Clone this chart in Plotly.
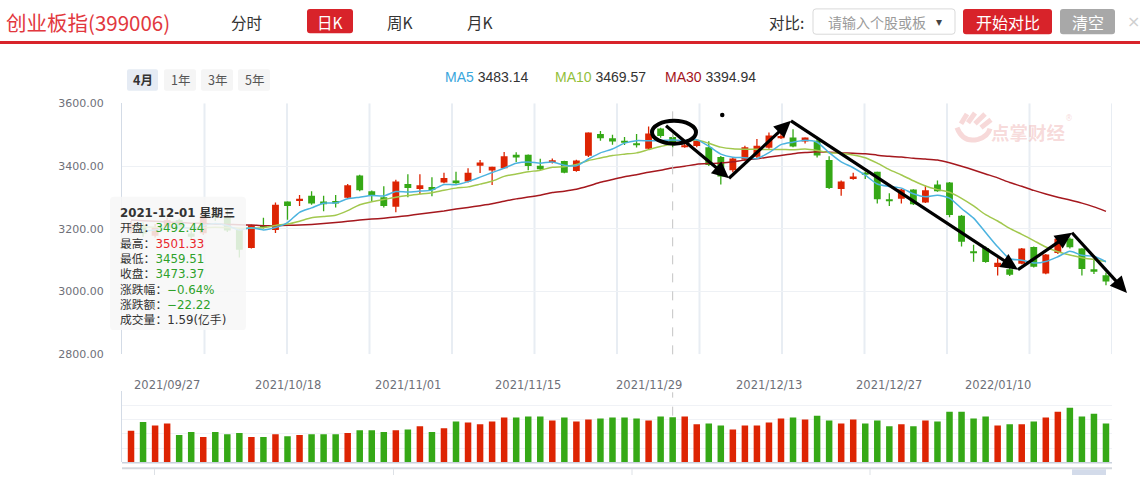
import datetime
import plotly.graph_objects as go

W, H = 1140, 482

# ---------------- data ----------------
dates = [
    "2021/09/22", "2021/09/23", "2021/09/24", "2021/09/27", "2021/09/28", "2021/09/29", "2021/09/30",
    "2021/10/08", "2021/10/11", "2021/10/12", "2021/10/13", "2021/10/14", "2021/10/15",
    "2021/10/18", "2021/10/19", "2021/10/20", "2021/10/21", "2021/10/22",
    "2021/10/25", "2021/10/26", "2021/10/27", "2021/10/28", "2021/10/29",
    "2021/11/01", "2021/11/02", "2021/11/03", "2021/11/04", "2021/11/05",
    "2021/11/08", "2021/11/09", "2021/11/10", "2021/11/11", "2021/11/12",
    "2021/11/15", "2021/11/16", "2021/11/17", "2021/11/18", "2021/11/19",
    "2021/11/22", "2021/11/23", "2021/11/24", "2021/11/25", "2021/11/26",
    "2021/11/29", "2021/11/30", "2021/12/01", "2021/12/02", "2021/12/03",
    "2021/12/06", "2021/12/07", "2021/12/08", "2021/12/09", "2021/12/10",
    "2021/12/13", "2021/12/14", "2021/12/15", "2021/12/16", "2021/12/17",
    "2021/12/20", "2021/12/21", "2021/12/22", "2021/12/23", "2021/12/24",
    "2021/12/27", "2021/12/28", "2021/12/29", "2021/12/30", "2021/12/31",
    "2022/01/04", "2022/01/05", "2022/01/06", "2022/01/07",
    "2022/01/10", "2022/01/11", "2022/01/12", "2022/01/13", "2022/01/14",
    "2022/01/17", "2022/01/18", "2022/01/19", "2022/01/20", "2022/01/21",
]
opens = [3195, 3212, 3178, 3205, 3228, 3185, 3186, 3243, 3240, 3196,
         3139, 3211, 3196, 3287, 3289, 3305, 3287, 3289, 3299, 3370,
         3320, 3301, 3270, 3343, 3327, 3333, 3348, 3354, 3351, 3401,
         3386, 3393, 3436, 3436, 3401, 3412, 3416, 3384, 3433, 3502,
         3489, 3481, 3471, 3455, 3520, 3492.44, 3462, 3464, 3460, 3429,
         3387, 3421, 3430, 3458, 3489, 3491, 3478, 3481, 3419, 3327,
         3359, 3379, 3382, 3294, 3296, 3325, 3284, 3341, 3348, 3242,
         3128, 3139, 3078, 3071, 3089, 3142, 3058, 3123, 3168, 3137,
         3071, 3052]
highs = [3225, 3220, 3215, 3235, 3232, 3195, 3250, 3255, 3262, 3200,
         3213, 3235, 3284, 3287, 3308, 3320, 3305, 3308, 3343, 3372,
         3322, 3336, 3356, 3374, 3374, 3364, 3379, 3382, 3393, 3419,
         3398, 3445, 3444, 3437, 3423, 3424, 3417, 3420, 3507, 3512,
         3500, 3493, 3502, 3526, 3522, 3501.33, 3480, 3483, 3479, 3432,
         3429, 3465, 3486, 3507, 3512, 3517, 3491, 3486, 3431, 3354,
         3379, 3382, 3382, 3313, 3327, 3326, 3338, 3354, 3349, 3244,
         3149, 3144, 3106, 3076, 3139, 3144, 3120, 3172, 3172, 3138,
         3102, 3061]
lows = [3185, 3175, 3172, 3200, 3198, 3165, 3180, 3225, 3190, 3109,
        3137, 3201, 3187, 3229, 3273, 3277, 3256, 3268, 3297, 3320,
        3287, 3268, 3253, 3301, 3310, 3304, 3345, 3344, 3348, 3378,
        3340, 3393, 3413, 3387, 3387, 3408, 3377, 3382, 3429, 3481,
        3468, 3467, 3459, 3452, 3490, 3459.51, 3458, 3460, 3400, 3341,
        3380, 3417, 3425, 3455, 3486, 3460, 3472, 3427, 3327, 3305,
        3356, 3359, 3281, 3273, 3281, 3276, 3282, 3318, 3237, 3144,
        3095, 3092, 3051, 3050, 3087, 3077, 3055, 3120, 3137, 3051,
        3056, 3020]
closes = [3215, 3185, 3206, 3228, 3205, 3175, 3240, 3238, 3195, 3133,
          3211, 3206, 3277, 3273, 3296, 3281, 3281, 3281, 3339, 3323,
          3308, 3273, 3351, 3330, 3339, 3324, 3362, 3348, 3379, 3411,
          3398, 3431, 3427, 3400, 3390, 3418, 3379, 3418, 3507, 3489,
          3478, 3474, 3467, 3504, 3495.59, 3473.37, 3465, 3480, 3403, 3367,
          3424, 3460, 3465, 3497, 3496, 3462, 3491, 3434, 3330, 3351,
          3367, 3372, 3294, 3290, 3325, 3278, 3323, 3320, 3244, 3159,
          3124, 3094, 3092, 3054, 3137, 3079, 3118, 3168, 3141, 3072,
          3063, 3032]
volumes = [1.11, 1.42, 1.30, 1.37, 0.96, 1.07, 0.89, 1.07, 0.99, 1.03,
           0.89, 0.89, 0.99, 0.92, 0.96, 0.99, 0.99, 0.99, 1.03, 1.13,
           1.13, 1.07, 1.13, 1.16, 1.27, 1.07, 1.20, 1.44, 1.40, 1.34,
           1.44, 1.58, 1.58, 1.61, 1.61, 1.47, 1.58, 1.44, 1.51, 1.54,
           1.58, 1.58, 1.54, 1.47, 1.61, 1.59, 1.61, 1.34, 1.37, 1.30,
           1.16, 1.30, 1.30, 1.40, 1.54, 1.58, 1.51, 1.64, 1.47, 1.37,
           1.51, 1.37, 1.47, 1.27, 1.34, 1.27, 1.47, 1.44, 1.78, 1.78,
           1.54, 1.61, 1.30, 1.34, 1.34, 1.44, 1.58, 1.78, 1.92, 1.61,
           1.71, 1.37]
ma5 = [3196, 3194, 3196, 3203, 3207.8, 3199.8, 3210.8, 3217.2, 3210.6, 3196.2,
       3203.4, 3196.6, 3204.4, 3220, 3252.6, 3266.6, 3281.6, 3282.4, 3295.6, 3301,
       3306.4, 3304.8, 3318.8, 3317, 3320.2, 3323.4, 3341.2, 3340.6, 3350.4, 3364.6,
       3379.4, 3393.2, 3409, 3413.2, 3409.2, 3413.2, 3402.8, 3401, 3422.4, 3442.2,
       3454.2, 3473.2, 3481, 3480.4, 3481.7, 3483.14, 3481, 3484, 3463.3, 3438,
       3428.2, 3426.8, 3423.8, 3442.6, 3468.4, 3476, 3482.2, 3476, 3442.6, 3413.6,
       3394.6, 3370.8, 3342.8, 3334.8, 3329.6, 3311.8, 3302, 3307.2, 3298, 3264.8,
       3234, 3188.2, 3142.6, 3104.6, 3100.2, 3091.2, 3096, 3111.2, 3128.6, 3115.6,
       3112.4, 3095.2]
ma10 = [3207, 3206, 3205, 3205, 3204, 3203, 3204, 3205, 3204, 3202,
        3201.6, 3203.7, 3210.8, 3215.3, 3224.4, 3235, 3239.1, 3243.4, 3257.8, 3276.8,
        3286.5, 3293.2, 3300.6, 3306.3, 3310.6, 3314.9, 3323, 3329.7, 3333.7, 3342.4,
        3351.4, 3367.2, 3374.8, 3381.8, 3386.9, 3396.3, 3398, 3405, 3417.8, 3425.7,
        3433.7, 3438, 3442, 3452.4, 3462.6, 3469.57, 3476.8, 3483, 3472.6, 3460.4,
        3454.9, 3453.4, 3453.4, 3452.7, 3453, 3451.9, 3454.5, 3449.9, 3442.6, 3441,
        3435.3, 3426.5, 3409.4, 3388.7, 3371.6, 3353.2, 3336.4, 3325, 3316.4, 3297.2,
        3272.9, 3245.1, 3224.9, 3201.3, 3182.5, 3162.6, 3142.1, 3126.9, 3116.6, 3107.9,
        3101.8, 3095.6]
ma30 = [3228, 3226, 3224, 3222, 3220, 3218, 3217, 3215, 3214, 3213,
        3212, 3210, 3210, 3211, 3212, 3214, 3217, 3220, 3224, 3228,
        3231, 3234, 3238, 3242, 3247, 3252, 3257, 3263, 3268, 3273.7,
        3279.8, 3288, 3295.4, 3301.1, 3307.3, 3315.4, 3320, 3326, 3336.4, 3348.3,
        3357.2, 3366.1, 3372.5, 3380.2, 3387, 3394.94, 3399.3, 3405.9, 3408.1, 3409.5,
        3413.4, 3419.6, 3423.4, 3428.9, 3434, 3439.3, 3442.9, 3445.8, 3444.2, 3442.2,
        3441.2, 3439.2, 3434.8, 3431.1, 3428.9, 3424.9, 3422.4, 3419.1, 3410.4, 3399.4,
        3387.6, 3374.9, 3362.5, 3347.5, 3335.6, 3322.5, 3310.9, 3300.5, 3291.8, 3281.9,
        3269.9, 3255.6]
price_ticks = [2800, 3000, 3200, 3400, 3600]
label_dates = ["2021/09/27", "2021/10/18", "2021/11/01", "2021/11/15",
               "2021/11/29", "2021/12/13", "2021/12/27", "2022/01/10"]
focus_date = "2021/12/01"

# ---------------- styling ----------------
RED = "#dd2403"
GREEN = "#35a816"
C_MA5 = "#4cb3df"
C_MA10 = "#a2c84e"
C_MA30 = "#a5181e"
CJK = "Noto Sans CJK SC"

n = len(dates)
idx = list(range(n))
up = [c >= o for o, c in zip(opens, closes)]
colors = [RED if u else GREEN for u in up]

PLOT_L, PLOT_R = 122, 1112
MAIN_T, MAIN_B = 100, 358
VOL_T, VOL_B = 396, 469


def px(x):
    return x / W


def py(y):
    return 1 - y / H


fig = go.Figure()

# wicks
for col in (RED, GREEN):
    wx, wy = [], []
    for i in idx:
        if colors[i] == col:
            wx += [i, i, None]
            wy += [lows[i], highs[i], None]
    fig.add_trace(go.Scatter(x=wx, y=wy, mode="lines", line=dict(color=col, width=1.3),
                             hoverinfo="skip", showlegend=False, xaxis="x", yaxis="y"))

# bodies
bases = [min(o, c) for o, c in zip(opens, closes)]
heights = [max(abs(c - o), 3) for o, c in zip(opens, closes)]
fig.add_trace(go.Bar(x=idx, y=heights, base=bases, marker=dict(color=colors, line=dict(width=0)),
                     width=0.57, showlegend=False, xaxis="x", yaxis="y"))

# moving averages
for vals, col in ((ma30, C_MA30), (ma10, C_MA10), (ma5, C_MA5)):
    fig.add_trace(go.Scatter(x=idx, y=vals, mode="lines",
                             line=dict(color=col, width=1.5, shape="spline", smoothing=0.6),
                             showlegend=False, xaxis="x", yaxis="y"))

# volume
fig.add_trace(go.Bar(x=idx, y=volumes, marker=dict(color=colors, line=dict(width=0)),
                     width=0.54, showlegend=False, xaxis="x2", yaxis="y2"))

xrange = [-0.75, n - 0.5]
tickvals = [dates.index(d) for d in label_dates]

fig.update_layout(
    width=W, height=H, margin=dict(l=0, r=0, t=0, b=0),
    paper_bgcolor="white", plot_bgcolor="white", barmode="overlay", showlegend=False,
    xaxis=dict(domain=[px(PLOT_L), px(PLOT_R)], range=xrange, anchor="y",
               showticklabels=False, showgrid=False, zeroline=False, showline=False, fixedrange=True),
    yaxis=dict(domain=[py(MAIN_B), py(MAIN_T)], range=[2800, 3600], tickvals=price_ticks,
               tickformat=".2f", ticks="", ticklabelstandoff=15,
               tickfont=dict(family="DejaVu Sans", size=11, color="#6e7079"),
               showgrid=True, gridcolor="#eef1f5", gridwidth=1, zeroline=False,
               showline=True, linecolor="#d3dbe6", linewidth=1),
    xaxis2=dict(domain=[px(PLOT_L), px(PLOT_R)], range=xrange, anchor="y2",
                showticklabels=False, ticks="",
                showgrid=False, zeroline=False, showline=False),
    yaxis2=dict(domain=[py(VOL_B), py(VOL_T)], range=[0, 2.5], dtick=0.5, showticklabels=False,
                showgrid=True, gridcolor="#f0f2f6", zeroline=False, ticks="",
                showline=True, linecolor="#d3dbe6", linewidth=1),
)

shapes = []
annotations = []

# date labels between the two panels, placed on the shared category scale
for tv, lab in zip(tickvals, label_dates):
    annotations.append(dict(x=tv, y=py(390), xref="x2", yref="paper", text=lab, showarrow=False,
                            xanchor="center", yanchor="middle",
                            font=dict(family="DejaVu Sans", size=11.5, color="#6e7079")))

# vertical split lines in the price grid
for k in range(1, 13):
    xv = xrange[0] + k * (xrange[1] - xrange[0]) / 12
    shapes.append(dict(type="line", xref="x", yref="y", x0=xv, x1=xv, y0=2800, y1=3600,
                       line=dict(color="#e8edf3", width=2), layer="below"))

# volume bottom axis and slider strip
shapes.append(dict(type="line", xref="paper", yref="paper", x0=px(PLOT_L), x1=px(PLOT_R),
                   y0=py(VOL_B + 0.5), y1=py(VOL_B + 0.5), line=dict(color="#c9d1dd", width=1.5)))
shapes.append(dict(type="line", xref="paper", yref="paper", x0=px(PLOT_L), x1=px(PLOT_R),
                   y0=py(475), y1=py(475), line=dict(color="#d4d8de", width=2)))
for xs in (154.5, 393.5, 632, 870):
    shapes.append(dict(type="line", xref="paper", yref="paper", x0=px(xs), x1=px(xs),
                       y0=py(476), y1=py(482), line=dict(color="#dde1e6", width=1)))
shapes.append(dict(type="rect", xref="paper", yref="paper", x0=px(1072), x1=px(1106),
                   y0=py(482), y1=py(476), fillcolor="#d3dbea", line=dict(width=0)))

# crosshair
fi = dates.index(focus_date)
shapes.append(dict(type="line", xref="x", yref="paper", x0=fi, x1=fi, y0=py(MAIN_B), y1=py(MAIN_T),
                   line=dict(color="#c4c4c4", width=1, dash="dash")))
shapes.append(dict(type="line", xref="x2", yref="paper", x0=fi, x1=fi, y0=py(421), y1=py(397),
                   line=dict(color="#c4c4c4", width=1, dash="dash")))


def rrect(x0, y0, x1, y1, r, fill, line_color=None, lw=0):
    p = (f"M {px(x0 + r)},{py(y0)} L {px(x1 - r)},{py(y0)} Q {px(x1)},{py(y0)} {px(x1)},{py(y0 + r)} "
         f"L {px(x1)},{py(y1 - r)} Q {px(x1)},{py(y1)} {px(x1 - r)},{py(y1)} "
         f"L {px(x0 + r)},{py(y1)} Q {px(x0)},{py(y1)} {px(x0)},{py(y1 - r)} "
         f"L {px(x0)},{py(y0 + r)} Q {px(x0)},{py(y0)} {px(x0 + r)},{py(y0)} Z")
    return dict(type="path", xref="paper", yref="paper", path=p, fillcolor=fill,
                line=dict(color=line_color or fill, width=lw), layer="above")


def text(x, y, t, size=14, color="#333", anchor="left", family=CJK, yanchor="middle"):
    annotations.append(dict(x=px(x), y=py(y), xref="paper", yref="paper", text=t, showarrow=False,
                            xanchor=anchor, yanchor=yanchor, align="left",
                            font=dict(family=family, size=size, color=color)))


# ---------- header ----------
shapes.append(dict(type="line", xref="paper", yref="paper", x0=0, x1=1, y0=py(37.5), y1=py(37.5),
                   line=dict(color="#d8232a", width=3)))
text(4, 16, "创业板指(399006)", 20.5, "#e2383e")
text(246, 16, "分时", 15.5, "#333", "center")
shapes.append(rrect(307, 3, 353, 28, 3, "#d8232a"))
text(330, 16, "日K", 15.5, "white", "center")
text(400, 16, "周K", 15.5, "#333", "center")
text(480, 16, "月K", 15.5, "#333", "center")
text(786, 16, "对比:", 15.5, "#333", "center")
shapes.append(rrect(813, 3, 955, 29, 3, "white", "#d9d9d9", 1))
text(826, 16, "请输入个股或板", 14, "#9a9a9a")
text(939, 16, "▾", 12, "#444", "center", "DejaVu Sans")
shapes.append(rrect(963, 3, 1052, 29, 3, "#d8232a"))
text(1007.5, 16, "开始对比", 16, "white", "center")
shapes.append(rrect(1060, 3, 1115, 29, 3, "#a8a8a8"))
text(1087.5, 16, "清空", 16, "white", "center")
text(1125, 16, "×", 16, "#cfcfcf", "left", "DejaVu Sans")

# range buttons
for (x0, x1, lab, bg, bold) in ((127, 158, "4月", "#e5ebf4", True), (164, 196, "1年", "#f5f5f5", False),
                                (201, 233, "3年", "#f5f5f5", False), (238, 270, "5年", "#f5f5f5", False)):
    shapes.append(rrect(x0, 65, x1, 87, 2, bg))
    text((x0 + x1) / 2, 76, f"<b>{lab}</b>" if bold else lab, 12.5, "#333" if bold else "#555", "center")

# MA legend
for x0, lab, col, vals in ((443, "MA5", "#3aa6dc", ma5), (553, "MA10", "#93c03b", ma10),
                           (663, "MA30", "#a5131b", ma30)):
    text(x0, 73, f"<span style='color:{col}'>{lab}</span> <span style='color:#333'>{vals[fi]:.2f}</span>",
         14, "#333", "left", "Liberation Sans")

# ---------- tooltip ----------
shapes.append(rrect(110, 196, 246, 333, 4, "rgba(247,247,247,0.86)"))
prev_close = closes[fi - 1]
chg = closes[fi] - prev_close
pct = chg / prev_close * 100
wk = "一二三四五六日"[datetime.datetime.strptime(focus_date, "%Y/%m/%d").weekday()]
TG = "#2ea12a"
TR = "#e8262b"


def col_vs_prev(v):
    return TR if v > prev_close else TG


rows = [
    ("开盘：", f"{opens[fi]:.2f}", col_vs_prev(opens[fi])),
    ("最高：", f"{highs[fi]:.2f}", col_vs_prev(highs[fi])),
    ("最低：", f"{lows[fi]:.2f}", col_vs_prev(lows[fi])),
    ("收盘：", f"{closes[fi]:.2f}", col_vs_prev(closes[fi])),
    ("涨跌幅：", f"{pct:.2f}%".replace("-", "−"), TG if chg < 0 else TR),
    ("涨跌额：", f"{chg:.2f}".replace("-", "−"), TG if chg < 0 else TR),
    ("成交量：", f"{volumes[fi]:.2f}(亿手)", "#333"),
]
lines = [f"<b>{focus_date.replace('/', '-')} 星期{wk}</b>"]
lines += [f"{lab}<span style='color:{c}'>{val}</span>" for lab, val, c in rows]
text(118, 203, "<br>".join(lines), 11.8, "#333", "left", "DejaVu Sans, " + CJK, "top")

# ---------- watermark ----------
WM = "rgba(232,140,140,0.33)"
text(1028, 129, "<b>点掌财经</b>", 18.5, WM, "center")
text(1069, 116, "®", 8, WM, "center", "DejaVu Sans")
for (a, b, c, d) in ((961, 121, 967, 111), (968, 120, 975, 110), (975, 121, 985, 111), (981, 125, 991, 117)):
    shapes.append(dict(type="line", xref="paper", yref="paper", x0=px(a), y0=py(b), x1=px(c), y1=py(d),
                       line=dict(color=WM, width=5)))
shapes.append(dict(type="path", xref="paper", yref="paper",
                   path=f"M {px(957)},{py(125)} Q {px(963)},{py(141)} {px(978)},{py(137)} Q {px(988)},{py(134)} {px(990)},{py(126)}",
                   line=dict(color=WM, width=5)))

# ---------- hand-drawn marks ----------
shapes.append(dict(type="circle", xref="paper", yref="paper", x0=px(652), x1=px(696), y0=py(141.5), y1=py(118),
                   line=dict(color="black", width=4), layer="above"))
shapes.append(dict(type="circle", xref="paper", yref="paper", x0=px(720), x1=px(724.5), y0=py(114.3), y1=py(109.8),
                   fillcolor="black", line=dict(color="black", width=0), layer="above"))

pts = [(666, 123), (729, 177), (791, 118), (1018, 271), (1072, 233), (1127, 295)]
HL, HW = 17, 8
for (sx, sy), (tx, ty) in zip(pts[:-1], pts[1:]):
    dx, dy = tx - sx, ty - sy
    L = (dx * dx + dy * dy) ** 0.5
    ux, uy = dx / L, dy / L
    bx, by = tx - ux * HL, ty - uy * HL
    nx, ny = -uy, ux
    shapes.append(dict(type="line", xref="paper", yref="paper", x0=px(sx), y0=py(sy), x1=px(bx + ux * 2), y1=py(by + uy * 2),
                       line=dict(color="black", width=3.2), layer="above"))
    shapes.append(dict(type="path", xref="paper", yref="paper",
                       path=f"M {px(tx)},{py(ty)} L {px(bx + nx * HW)},{py(by + ny * HW)} L {px(bx - nx * HW)},{py(by - ny * HW)} Z",
                       fillcolor="black", line=dict(color="black", width=0), layer="above"))

fig.update_layout(shapes=shapes, annotations=annotations)
fig.write_html("out.html")
